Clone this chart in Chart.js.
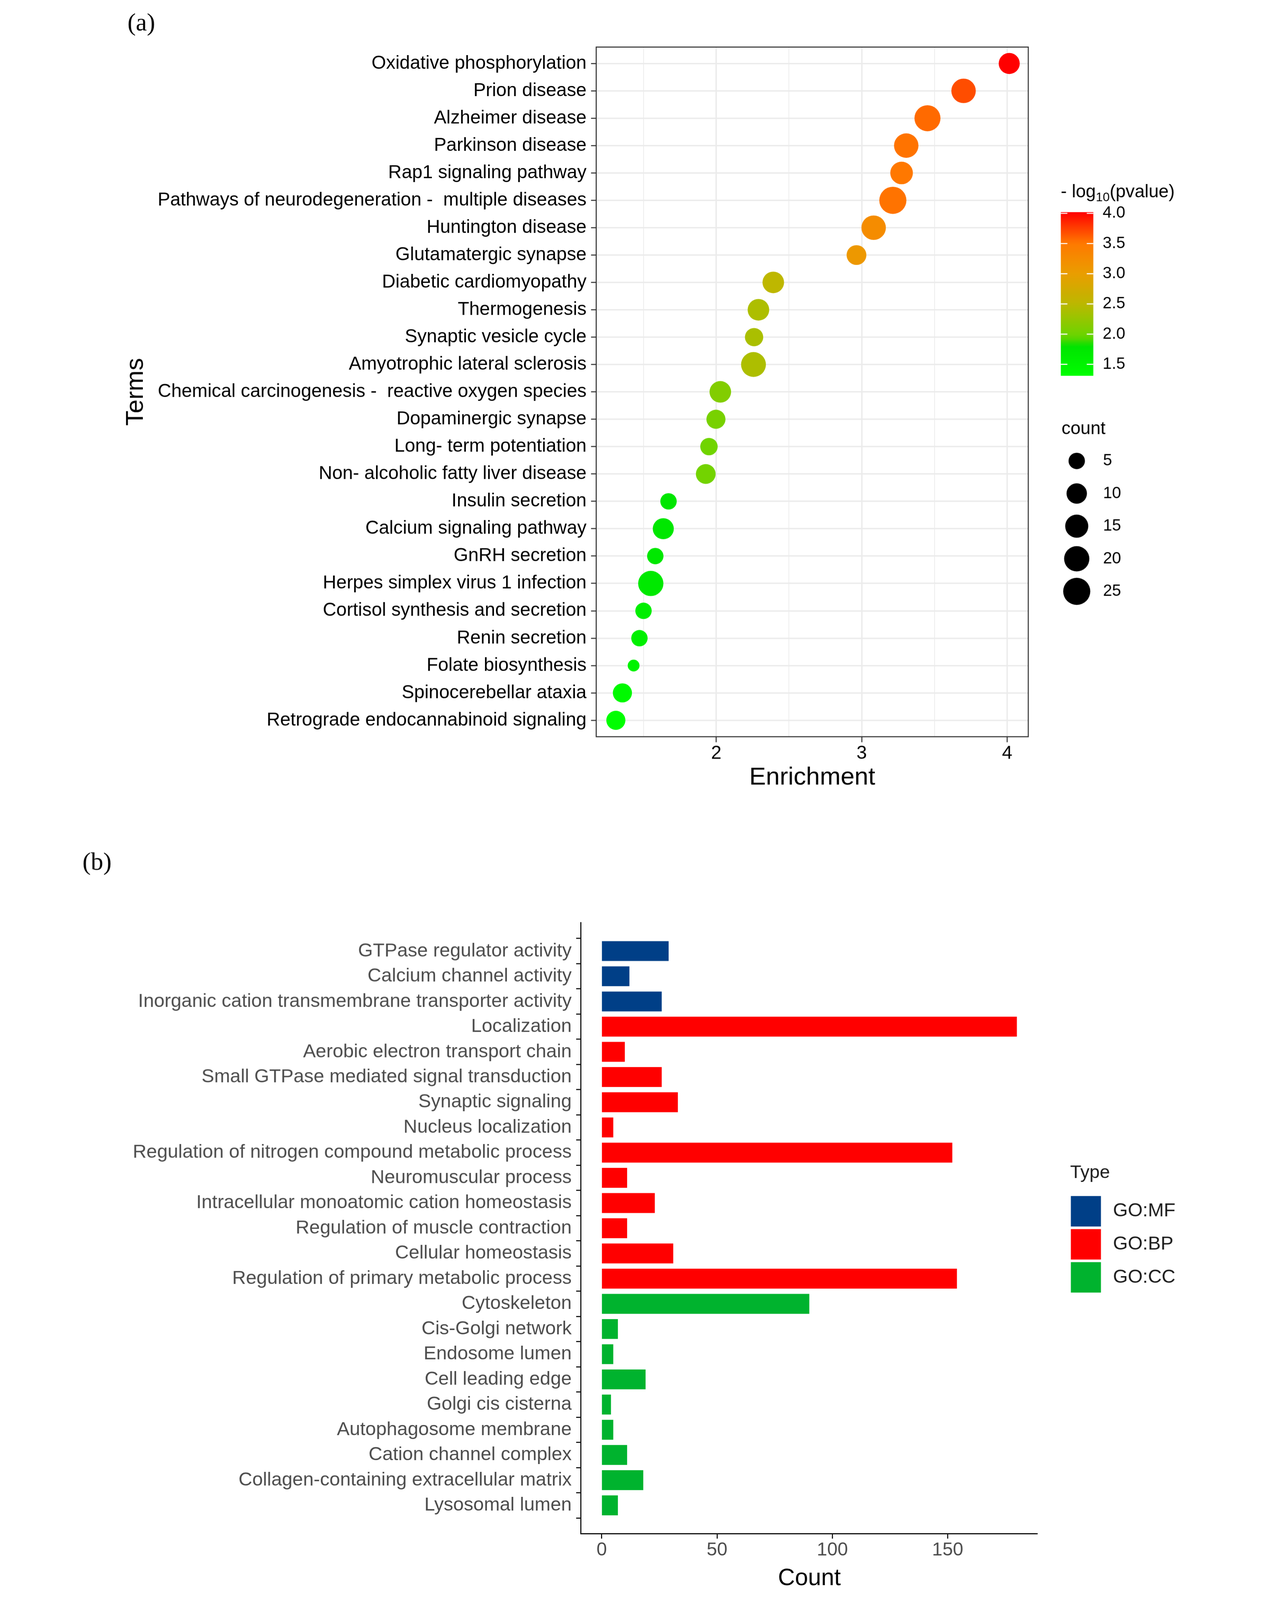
<!DOCTYPE html>
<html>
<head>
<meta charset="utf-8">
<script src="https://cdn.jsdelivr.net/npm/chart.js@4.4.1/dist/chart.umd.min.js"></script>
<style>
  html, body { margin: 0; padding: 0; background: #fff; overflow: hidden; }
  #page { position: absolute; left: 0; top: 0; width: 3229px; height: 4625px; transform-origin: 0 0; }
  canvas { position: absolute; left: 0; }
  #chartA { top: 0; }
  #chartB { top: 2330px; }
</style>
</head>
<body>
<div id="page">
  <canvas id="chartA" width="3229" height="2330"></canvas>
  <canvas id="chartB" width="3229" height="2295"></canvas>
</div>
<script>
// ---- (a) KEGG enrichment dot plot ----
const keggTerms = [
  "Oxidative phosphorylation", "Prion disease", "Alzheimer disease", "Parkinson disease",
  "Rap1 signaling pathway", "Pathways of neurodegeneration -  multiple diseases",
  "Huntington disease", "Glutamatergic synapse", "Diabetic cardiomyopathy", "Thermogenesis",
  "Synaptic vesicle cycle", "Amyotrophic lateral sclerosis",
  "Chemical carcinogenesis -  reactive oxygen species", "Dopaminergic synapse",
  "Long- term potentiation", "Non- alcoholic fatty liver disease", "Insulin secretion",
  "Calcium signaling pathway", "GnRH secretion", "Herpes simplex virus 1 infection",
  "Cortisol synthesis and secretion", "Renin secretion", "Folate biosynthesis",
  "Spinocerebellar ataxia", "Retrograde endocannabinoid signaling"
];
const enrichment = [4.014, 3.70, 3.452, 3.306, 3.274, 3.214, 3.082, 2.964, 2.392, 2.29,
  2.26, 2.256, 2.028, 1.998, 1.95, 1.928, 1.672, 1.636, 1.581, 1.55, 1.50, 1.472, 1.432, 1.355, 1.31];
const negLogP = [4.02, 3.69, 3.57, 3.53, 3.51, 3.53, 3.25, 3.08, 2.52, 2.40,
  2.38, 2.40, 2.12, 2.05, 2.0, 2.02, 1.76, 1.74, 1.72, 1.70, 1.62, 1.58, 1.52, 1.42, 1.31];
const geneCount = [11, 18, 22, 18, 14, 25, 18, 9, 12, 12, 7, 19, 12, 8, 6, 9, 5, 11, 5, 20, 5, 5, 3, 8, 8];
const sizeBreaks = [5, 10, 15, 20, 25];
const colorBreaks = [1.5, 2.0, 2.5, 3.0, 3.5, 4.0];
const enrichmentGrid = [1.5, 2, 2.5, 3, 3.5, 4];
const enrichmentLabels = [2, 3, 4];

// ---- (b) GO bar chart ----
const goTerms = [
  "GTPase regulator activity", "Calcium channel activity",
  "Inorganic cation transmembrane transporter activity", "Localization",
  "Aerobic electron transport chain", "Small GTPase mediated signal transduction",
  "Synaptic signaling", "Nucleus localization",
  "Regulation of nitrogen compound metabolic process", "Neuromuscular process",
  "Intracellular monoatomic cation homeostasis", "Regulation of muscle contraction",
  "Cellular homeostasis", "Regulation of primary metabolic process", "Cytoskeleton",
  "Cis-Golgi network", "Endosome lumen", "Cell leading edge", "Golgi cis cisterna",
  "Autophagosome membrane", "Cation channel complex",
  "Collagen-containing extracellular matrix", "Lysosomal lumen"
];
const goCount = [29, 12, 26, 180, 10, 26, 33, 5, 152, 11, 23, 11, 31, 154, 90, 7, 5, 19, 4, 5, 11, 18, 7];
const goType = ["GO:MF", "GO:MF", "GO:MF",
  "GO:BP", "GO:BP", "GO:BP", "GO:BP", "GO:BP", "GO:BP", "GO:BP", "GO:BP", "GO:BP", "GO:BP", "GO:BP",
  "GO:CC", "GO:CC", "GO:CC", "GO:CC", "GO:CC", "GO:CC", "GO:CC", "GO:CC", "GO:CC"];
const goTypes = ["GO:MF", "GO:BP", "GO:CC"];
const countTicks = [0, 50, 100, 150];

const typeColors = { "GO:MF": "#003F87", "GO:BP": "#FF0000", "GO:CC": "#00B32E" };

Chart.defaults.font.family = "'Liberation Sans', Arial, sans-serif";

// the window may be shorter than the 3229x4625 figure: shrink the whole page to fit
const fit = Math.min(1, window.innerWidth / 3229, window.innerHeight / 4625);
const page = document.getElementById("page");
page.style.transform = "translate(" + ((window.innerWidth - 3229 * fit) / 2) + "px, 0) scale(" + fit + ")";
const pixelRatio = fit * (window.devicePixelRatio || 1);

// colour ramp for -log10(p)
const colorStops = [
  [1.30, [0, 255, 0]], [1.80, [0, 228, 0]], [1.92, [84, 214, 0]], [2.0, [112, 212, 0]],
  [2.5, [188, 184, 0]], [3.0, [234, 158, 0]], [3.5, [255, 122, 0]], [4.02, [255, 0, 0]]
];
function pColor(v) {
  if (v <= colorStops[0][0]) return "rgb(" + colorStops[0][1].join(",") + ")";
  for (let i = 1; i < colorStops.length; i++) {
    const [v1, c1] = colorStops[i];
    const [v0, c0] = colorStops[i - 1];
    if (v <= v1) {
      const t = (v - v0) / (v1 - v0);
      const c = c0.map((x, k) => Math.round(x + (c1[k] - x) * t));
      return "rgb(" + c.join(",") + ")";
    }
  }
  return "rgb(255,0,0)";
}

const countMin = Math.min(...geneCount);
const countMax = Math.max(...geneCount);
function dotDiameter(c) {
  return 34 + 44.4 * Math.sqrt(Math.max(0, c - countMin) / (countMax - countMin));
}

const pMin = Math.min(...negLogP);
const pMax = Math.max(...negLogP);

const panelA = {
  id: "panelA",
  afterDraw(chart) {
    const { ctx, chartArea: a } = chart;
    ctx.save();
    ctx.strokeStyle = "#333";
    ctx.lineWidth = 3;
    ctx.strokeRect(a.left, a.top, a.right - a.left, a.bottom - a.top);

    ctx.fillStyle = "#000";
    ctx.textAlign = "left";
    ctx.textBaseline = "middle";
    ctx.font = "72px 'Liberation Serif', 'Times New Roman', serif";
    ctx.fillText("(a)", 160, 69);

    // colour bar legend
    ctx.textBaseline = "alphabetic";
    ctx.font = "52px 'Liberation Sans', Arial";
    let x = 2858;
    ctx.fillText("- log", x, 570);
    x += ctx.measureText("- log").width;
    ctx.font = "36px 'Liberation Sans', Arial";
    ctx.fillText("10", x, 582);
    x += ctx.measureText("10").width;
    ctx.font = "52px 'Liberation Sans', Arial";
    ctx.fillText("(pvalue)", x, 570);

    const barX = 2858, barW = 94, barTop = 613, barBot = 1086;
    const barY = v => barBot - (v - pMin) / (pMax - pMin) * (barBot - barTop);
    const grad = ctx.createLinearGradient(0, barBot, 0, barTop);
    for (let k = 0; k <= 40; k++) {
      grad.addColorStop(k / 40, pColor(pMin + (pMax - pMin) * k / 40));
    }
    ctx.fillStyle = grad;
    ctx.fillRect(barX, barTop, barW, barBot - barTop);
    ctx.strokeStyle = "#fff";
    ctx.lineWidth = 3;
    ctx.font = "47px 'Liberation Sans', Arial";
    ctx.fillStyle = "#000";
    ctx.textBaseline = "middle";
    colorBreaks.forEach(b => {
      const y = barY(b);
      ctx.beginPath();
      ctx.moveTo(barX, y); ctx.lineTo(barX + 19, y);
      ctx.moveTo(barX + barW - 19, y); ctx.lineTo(barX + barW, y);
      ctx.stroke();
      ctx.fillText(b.toFixed(1), 2979, y);
    });

    // size legend
    ctx.textBaseline = "alphabetic";
    ctx.font = "52px 'Liberation Sans', Arial";
    ctx.fillText("count", 2860, 1255);
    ctx.textBaseline = "middle";
    ctx.font = "47px 'Liberation Sans', Arial";
    sizeBreaks.forEach((s, i) => {
      const y = 1332 + 94.25 * i;
      ctx.beginPath();
      ctx.arc(2904, y, dotDiameter(s) / 2, 0, Math.PI * 2);
      ctx.fill();
      ctx.fillText(String(s), 2980, y);
    });
    ctx.restore();
  }
};

new Chart(document.getElementById("chartA"), {
  type: "scatter",
  data: {
    datasets: [{
      data: keggTerms.map((t, i) => ({ x: enrichment[i], y: i })),
      pointRadius: ctx => dotDiameter(geneCount[ctx.dataIndex]) / 2,
      pointHoverRadius: ctx => dotDiameter(geneCount[ctx.dataIndex]) / 2,
      pointBackgroundColor: ctx => pColor(negLogP[ctx.dataIndex]),
      pointBorderWidth: 0
    }]
  },
  options: {
    responsive: false,
    animation: false,
    devicePixelRatio: pixelRatio,
    layout: { padding: { top: 136, right: 465, bottom: 0, left: 0 } },
    plugins: { legend: { display: false }, tooltip: { enabled: false } },
    scales: {
      x: {
        type: "linear",
        min: 1.175,
        max: 4.145,
        afterBuildTicks: s => { s.ticks = enrichmentGrid.map(v => ({ value: v })); },
        afterFit: s => { s.height = 201; },
        border: { display: false },
        grid: {
          color: "#EBEBEB",
          lineWidth: ctx => Number.isInteger(ctx.tick.value) ? 4 : 2,
          tickLength: 16,
          tickWidth: 3,
          tickColor: ctx => Number.isInteger(ctx.tick.value) ? "#333" : "rgba(0,0,0,0)"
        },
        ticks: {
          callback: v => enrichmentLabels.includes(v) ? String(v) : "",
          color: "#000",
          font: { size: 54 },
          padding: 0,
          maxRotation: 0,
          autoSkip: false
        },
        title: { display: true, text: "Enrichment", color: "#000", font: { size: 72 }, padding: { top: 0, bottom: 39 } }
      },
      y: {
        type: "linear",
        reverse: true,
        min: -0.6,
        max: keggTerms.length - 0.4,
        afterBuildTicks: s => { s.ticks = keggTerms.map((t, i) => ({ value: i })); },
        afterFit: s => { s.width = 1515; },
        border: { display: false },
        grid: { color: "#EBEBEB", lineWidth: 4, tickLength: 15, tickWidth: 3, tickColor: "#333" },
        ticks: { callback: v => keggTerms[v], color: "#000", font: { size: 54 }, padding: 13, autoSkip: false },
        title: { display: true, text: "Terms", color: "#000", font: { size: 72 }, padding: { top: 141, bottom: 0 } }
      }
    }
  },
  plugins: [panelA]
});

const panelB = {
  id: "panelB",
  afterDraw(chart) {
    const { ctx } = chart;
    ctx.save();
    ctx.fillStyle = "#000";
    ctx.textAlign = "left";
    ctx.textBaseline = "middle";
    ctx.font = "72px 'Liberation Serif', 'Times New Roman', serif";
    ctx.fillText("(b)", 30, 165);

    ctx.font = "53px 'Liberation Sans', Arial";
    ctx.fillStyle = "#1A1A1A";
    ctx.fillText("Type", 2885, 1060);
    ctx.font = "55px 'Liberation Sans', Arial";
    goTypes.forEach((t, i) => {
      const top = 1127 + 95.5 * i;
      ctx.fillStyle = typeColors[t];
      ctx.fillRect(2887, top, 87, 88);
      ctx.fillStyle = "#1A1A1A";
      ctx.fillText(t, 3009, top + 44);
    });
    ctx.restore();
  }
};

const countPad = Math.max(...goCount) * 0.05;

new Chart(document.getElementById("chartB"), {
  type: "bar",
  data: {
    datasets: [{
      data: goTerms.map((t, i) => ({ x: goCount[i], y: i })),
      backgroundColor: goType.map(t => typeColors[t]),
      borderWidth: 0,
      barPercentage: 0.79,
      categoryPercentage: 1
    }]
  },
  options: {
    indexAxis: "y",
    responsive: false,
    animation: false,
    devicePixelRatio: pixelRatio,
    layout: { padding: { top: 337, right: 438, bottom: 0, left: 0 } },
    plugins: { legend: { display: false }, tooltip: { enabled: false } },
    scales: {
      x: {
        type: "linear",
        min: -countPad,
        max: Math.max(...goCount) + countPad,
        afterBuildTicks: s => { s.ticks = countTicks.map(v => ({ value: v })); },
        afterFit: s => { s.height = 192; },
        border: { display: true, color: "#000", width: 3 },
        grid: { drawOnChartArea: false, tickLength: 14, tickWidth: 3, tickColor: "#000" },
        ticks: { color: "#4D4D4D", font: { size: 54 }, padding: 1, maxRotation: 0, autoSkip: false },
        title: { display: true, text: "Count", color: "#000", font: { size: 68 }, padding: { top: 0, bottom: 21 } }
      },
      y: {
        type: "linear",
        reverse: true,
        min: -0.6,
        max: goTerms.length - 0.4,
        afterBuildTicks: s => { s.ticks = goTerms.map((t, i) => ({ value: i })); },
        afterFit: s => { s.width = 1471; },
        border: { display: true, color: "#000", width: 3 },
        grid: { drawOnChartArea: false, tickLength: 14, tickWidth: 3, tickColor: "#000" },
        ticks: { callback: v => goTerms[v], color: "#4D4D4D", font: { size: 55 }, padding: 13, autoSkip: false }
      }
    }
  },
  plugins: [panelB]
});
</script>
</body>
</html>
